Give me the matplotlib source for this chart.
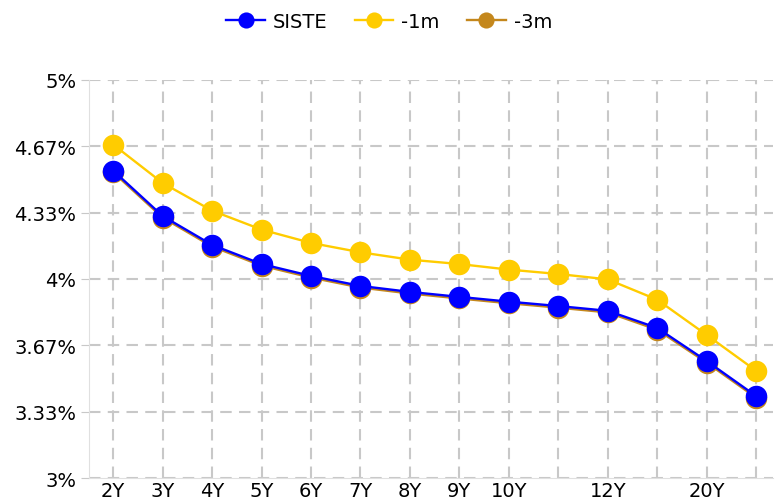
import matplotlib.pyplot as plt
import numpy as np

# tenors on the x axis (some labels are hidden like in the original)
tenors = ['2Y', '3Y', '4Y', '5Y', '6Y', '7Y', '8Y', '9Y', '10Y', '11Y', '12Y', '15Y', '20Y', '30Y']
shown_labels = ['2Y', '3Y', '4Y', '5Y', '6Y', '7Y', '8Y', '9Y', '10Y', '', '12Y', '', '20Y', '']

siste = [4.544, 4.316, 4.171, 4.075, 4.015, 3.965, 3.935, 3.910, 3.886, 3.864, 3.840, 3.754, 3.588, 3.412]
m1 = [4.675, 4.482, 4.343, 4.248, 4.181, 4.134, 4.097, 4.075, 4.047, 4.025, 3.998, 3.896, 3.719, 3.539]
m3 = [4.536, 4.308, 4.163, 4.067, 4.007, 3.957, 3.927, 3.902, 3.878, 3.856, 3.832, 3.745, 3.580, 3.404]

ytick_vals = [3, 10 / 3, 11 / 3, 4, 13 / 3, 14 / 3, 5]
ytick_labels = ['3%', '3.33%', '3.67%', '4%', '4.33%', '4.67%', '5%']

fig = plt.figure(figsize=(7.78, 5.02), dpi=100)
ax = fig.add_axes([0.1144, 0.0458, 0.879, 0.793])

x = np.arange(len(tenors))
series = [
    ('-3m', m3, '#c4871c'),
    ('-1m', m1, '#ffcc00'),
    ('SISTE', siste, '#0000ff'),
]
handles = {}
for name, vals, col in series:
    h, = ax.plot(x, vals, color=col, lw=1.7, marker='o', ms=15.5,
                 markeredgewidth=0, label=name, zorder=3)
    handles[name] = h

ax.set_xlim(-0.49, 13.34)
ax.set_ylim(3, 5)
ax.set_xticks(x)
ax.set_xticklabels(shown_labels)
ax.set_yticks(ytick_vals)
ax.set_yticklabels(ytick_labels)

ax.grid(True, color='#c8c8c8', lw=1.5, linestyle=(0, (5.5, 3.5)))
ax.set_axisbelow(True)
for s in ['top', 'right']:
    ax.spines[s].set_visible(False)
for s in ['left', 'bottom']:
    ax.spines[s].set_color('#e0e0e0')
ax.tick_params(axis='x', length=0, pad=2, labelsize=14)
ax.tick_params(axis='y', length=6, color='#c8c8c8', pad=3, labelsize=14)

leg = fig.legend([handles['SISTE'], handles['-1m'], handles['-3m']],
                 ['SISTE', '-1m', '-3m'], loc='center', bbox_to_anchor=(0.5, 0.955),
                 ncol=3, frameon=False, fontsize=14, markerscale=0.75,
                 handlelength=2.0, handletextpad=0.4, columnspacing=1.4)

fig.savefig('out.png', dpi=100)
